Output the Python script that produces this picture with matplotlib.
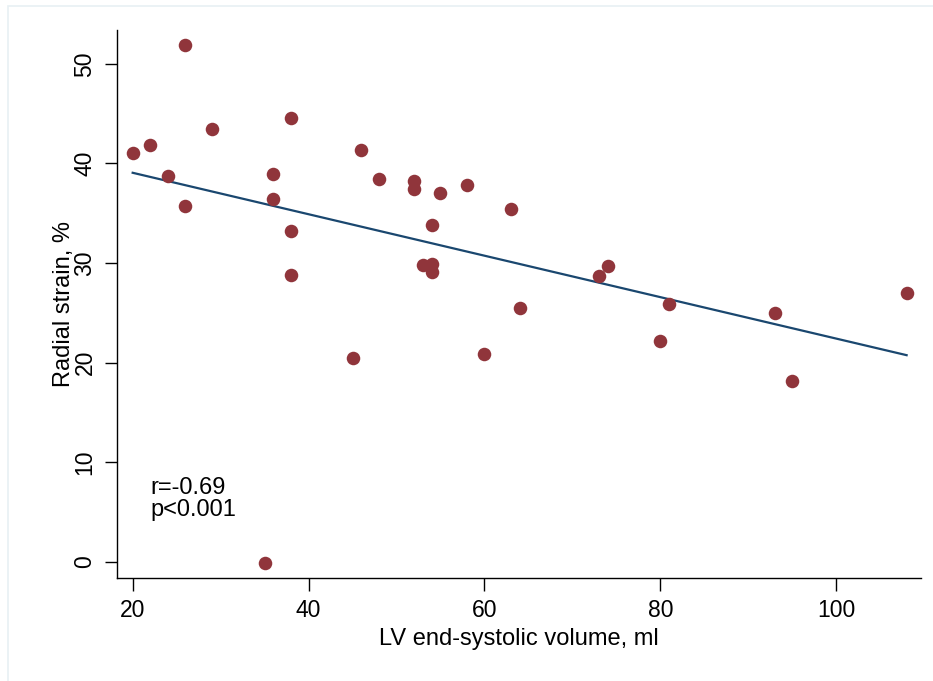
import numpy as np
import matplotlib
matplotlib.use("Agg")
import matplotlib.pyplot as plt
from matplotlib.patches import Rectangle

# LV end-systolic volume (ml) vs radial strain (%)
esv = [20, 22, 24, 26, 26, 29, 35, 36, 36, 38, 38, 38, 45, 46, 48,
       52, 52, 53, 54, 54, 54, 55, 58, 60, 63, 64, 73, 74, 80, 81,
       93, 95, 108]
strain = [41.1, 41.9, 38.7, 51.9, 35.7, 43.5, -0.1, 38.9, 36.4, 44.6, 33.2, 28.8, 20.5, 41.4, 38.4,
          38.2, 37.4, 29.8, 33.8, 29.9, 29.1, 37.0, 37.8, 20.9, 35.4, 25.5, 28.7, 29.7, 22.2, 25.9,
          25.0, 18.2, 27.0]

x_ticks = [20, 40, 60, 80, 100]
y_ticks = [0, 10, 20, 30, 40, 50]
stats_text = "r=-0.69\np<0.001"

plt.rcParams['font.family'] = ['Liberation Sans', 'DejaVu Sans']

fig = plt.figure(figsize=(9.33, 6.81), dpi=100)
# faint frame around the graph region
fig.patches.append(Rectangle((8 / 933, -0.01), 1.0, 1 - 6 / 681 + 0.01,
                             transform=fig.transFigure, fill=False,
                             edgecolor='#e8f0f3', linewidth=1.2))

ax = fig.add_axes([0.1257, 0.1517, 0.8611, 0.8042])

ax.scatter(esv, strain, s=95, color='#90353b', zorder=3, linewidths=0)

# linear fit
slope, intercept = np.polyfit(esv, strain, 1)
xs = np.array([min(esv), max(esv)])
ax.plot(xs, intercept + slope * xs, color='#1a476f', linewidth=1.6, zorder=2)

ax.text(22, 6.3, stats_text, fontsize=17, va='center', ha='left', linespacing=1.0)

ax.set_xlim(18.25, 109.6)
ax.set_ylim(-1.6, 53.4)
ax.set_xticks(x_ticks)
ax.set_yticks(y_ticks)
ax.tick_params(axis='both', labelsize=16.5, length=9, width=1, pad=6)
for lab in ax.get_yticklabels():
    lab.set_rotation(90)
    lab.set_va('center')

ax.spines['top'].set_visible(False)
ax.spines['right'].set_visible(False)
ax.spines['left'].set_linewidth(1.0)
ax.spines['bottom'].set_linewidth(1.0)

ax.set_xlabel("LV end-systolic volume, ml", fontsize=17, labelpad=5)
ax.set_ylabel("Radial strain, %", fontsize=17, labelpad=-1)

fig.savefig("out.png", dpi=100)
